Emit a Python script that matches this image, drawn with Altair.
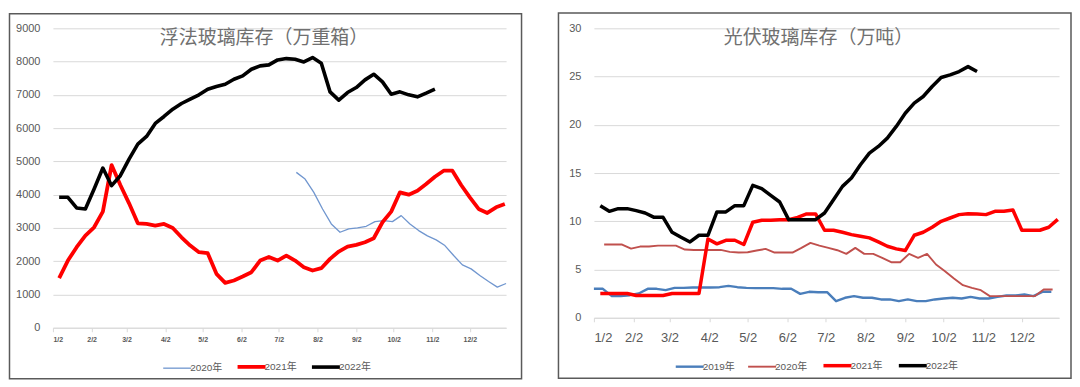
import altair as alt
import pandas as pd

# ---------------- 浮法玻璃库存（万重箱） ----------------
float_names = ["2020年", "2021年", "2022年"]
float_starts = ["2021-07-16", "2021-01-07", "2021-01-07"]   # first weekly observation (mapped to one calendar year)
float_2020 = [4670, 4470, 4070, 3570, 3120, 2870, 2970, 3000, 3050, 3190, 3220, 3190, 3370,
              3120, 2920, 2760, 2640, 2470, 2170, 1890, 1770, 1570, 1390, 1220, 1330]
float_2021 = [1490, 2020, 2420, 2770, 3020, 3490, 4890, 4290, 3740, 3140,
              3120, 3070, 3120, 3000, 2720, 2470, 2270, 2240, 1620, 1350,
              1420, 1540, 1670, 2020, 2130, 2020, 2170, 2020, 1820, 1720,
              1790, 2070, 2290, 2440, 2490, 2570, 2690, 3170, 3490, 4070,
              4000, 4120, 4320, 4540, 4720, 4720, 4290, 3920, 3570, 3450,
              3620, 3720]
float_2022 = [3920, 3920, 3600, 3570, 4170, 4800, 4270, 4570, 5070, 5520,
              5750, 6140, 6350, 6570, 6740, 6870, 7000, 7170, 7250, 7320,
              7470, 7570, 7770, 7870, 7900, 8050, 8090, 8070, 7990, 8120,
              7950, 7090, 6840, 7070, 7220, 7450, 7620, 7390, 7020, 7090,
              7000, 6940, 7050, 7170]
float_colors = ["#7096CF", "#FF0000", "#000000"]
float_widths = [1.3, 3.8, 3.6]

# ---------------- 光伏玻璃库存（万吨） ----------------
pv_names = ["2019年", "2020年", "2021年", "2022年"]
pv_starts = ["2021-01-02", "2021-01-10", "2021-01-07", "2021-01-07"]
pv_2019 = [3.0, 3.0, 2.24, 2.24, 2.34, 2.52, 3.0, 3.0, 2.86, 3.1,
           3.1, 3.14, 3.14, 3.14, 3.17, 3.31, 3.17, 3.1, 3.07, 3.07,
           3.07, 3.0, 3.0, 2.48, 2.69, 2.65, 2.65, 1.72, 2.07, 2.24,
           2.07, 2.07, 1.9, 1.9, 1.72, 1.9, 1.72, 1.72, 1.9, 2.0,
           2.07, 2.0, 2.17, 2.0, 2.0, 2.17, 2.31, 2.31, 2.41, 2.24,
           2.69, 2.69]
pv_2020 = [7.59, 7.59, 7.59, 7.17, 7.38, 7.38, 7.48, 7.48, 7.48, 7.07,
           7.03, 7.03, 7.03, 7.03, 6.83, 6.76, 6.79, 6.97, 7.14, 6.76,
           6.76, 6.76, 7.24, 7.76, 7.48, 7.24, 7.0, 6.62, 7.24, 6.62,
           6.62, 6.21, 5.76, 5.76, 6.62, 6.21, 6.62, 5.52, 4.83, 4.07,
           3.38, 3.10, 2.86, 2.24, 2.24, 2.24, 2.24, 2.24, 2.24, 2.93,
           2.93]
pv_2021 = [2.52, 2.52, 2.52, 2.52, 2.31, 2.31, 2.31, 2.31, 2.52, 2.52,
           2.52, 2.52, 8.17, 7.66, 8.03, 8.03, 7.59, 9.9, 10.1, 10.1,
           10.17, 10.17, 10.41, 10.76, 10.76, 9.07, 9.07, 8.86, 8.62, 8.45,
           8.28, 7.86, 7.41, 7.14, 6.97, 8.55, 8.86, 9.38, 10.0, 10.34,
           10.69, 10.79, 10.76, 10.69, 11.03, 11.03, 11.17, 9.07, 9.07, 9.07,
           9.38, 10.2]
pv_2022 = [11.62, 11.03, 11.31, 11.31, 11.10, 10.86, 10.41, 10.41, 8.86, 8.34,
           7.86, 8.55, 8.55, 10.97, 10.97, 11.62, 11.62, 13.72, 13.38, 12.69,
           12.0, 10.17, 10.17, 10.17, 10.17, 10.86, 12.24, 13.62, 14.48, 15.86,
           17.07, 17.76, 18.62, 19.83, 21.2, 22.24, 22.93, 23.97, 24.9, 25.17,
           25.52, 26.03, 25.52]
pv_colors = ["#4A7EBB", "#C0504D", "#FF0000", "#000000"]
pv_widths = [2.4, 1.9, 3.5, 3.5]

month_ticks = [alt.DateTime(year=2021, month=m, date=2, utc=True) for m in range(1, 13)]
x_domain = [alt.DateTime(year=2021, month=1, date=2, utc=True),
            alt.DateTime(year=2021, month=12, date=31, utc=True)]

GRID = "#D9D9D9"
TXT = "#595959"
LATIN = "Liberation Sans, Noto Sans CJK SC, sans-serif"
CJK = "Noto Sans CJK SC"
one = pd.DataFrame({"k": [0]})


def weekly_table(name, start, vals):
    dates = pd.date_range(start, periods=len(vals), freq="7D").strftime("%Y-%m-%d")
    return pd.DataFrame({"date": list(dates), "value": vals, "series": name})


def panel(names, starts, series, colors, widths, title, w, h, ymax, ystep, frame, title_xy,
          xlab_size, xlab_weight, xlab_pad, legend_xy, col_pad):
    x = alt.X("date:T",
              scale=alt.Scale(type="utc", domain=x_domain, nice=False),
              axis=alt.Axis(values=month_ticks,
                            labelExpr="utcFormat(datum.value, '%-m/%-d')",
                            title=None, grid=False, domain=True, domainColor=GRID,
                            ticks=True, tickColor=GRID, tickSize=4,
                            labelFontSize=xlab_size, labelFontWeight=xlab_weight,
                            labelColor=TXT, labelPadding=xlab_pad, labelFont=LATIN))
    y = alt.Y("value:Q",
              scale=alt.Scale(domain=[0, ymax], nice=False),
              axis=alt.Axis(values=list(range(0, ymax + 1, ystep)), format="d", title=None,
                            grid=True, gridColor=GRID, domain=False, ticks=False,
                            tickSize=0, labelPadding=13, labelFontSize=11,
                            labelColor=TXT, labelFont=LATIN))
    sw_expr = " : ".join(f"datum.value == '{n}' ? {wd}" for n, wd in zip(names, widths)) + " : 2"
    leg = alt.Legend(orient="none", legendX=legend_xy[0], legendY=legend_xy[1],
                     direction="horizontal", title=None, symbolType="stroke",
                     symbolSize=784, labelFontSize=10, labelColor=TXT,
                     labelFont=LATIN, columnPadding=col_pad, labelOffset=8,
                     symbolStrokeWidth={"expr": sw_expr})
    color = alt.Color("series:N", scale=alt.Scale(domain=names, range=colors), legend=leg)
    lines = [
        alt.Chart(weekly_table(n, s, v)).mark_line(strokeWidth=wd, strokeJoin="round").encode(
            x=x, y=y, color=color)
        for n, s, v, wd in zip(names, starts, series, widths)
    ]
    box = alt.Chart(one).mark_rect(fillOpacity=0, stroke="#5A5A5A", strokeWidth=1.5).encode(
        x=alt.value(frame[0]), x2=alt.value(frame[1]),
        y=alt.value(frame[2]), y2=alt.value(frame[3]))
    head = alt.Chart(one).mark_text(text=title, font=CJK, fontSize=19, color="#707070",
                                    align="center", baseline="middle").encode(
        x=alt.value(title_xy[0]), y=alt.value(title_xy[1]))
    return alt.layer(box, head, *lines).properties(width=w, height=h)


left = panel(float_names, float_starts, [float_2020, float_2021, float_2022],
             float_colors, float_widths, "浮法玻璃库存（万重箱）",
             454, 300, 9000, 1000, (-43.5, 469.5, -14.7, 351), (211.5, 10),
             7, "bold", 4, (119.5, 334), 6.5)

right = panel(pv_names, pv_starts, [pv_2019, pv_2020, pv_2021, pv_2022],
              pv_colors, pv_widths, "光伏玻璃库存（万吨）",
              466, 290, 30, 5, (-35.5, 478, -15.4, 350.5), (225, 9.3),
              13, "normal", 10, (91, 333), 8.5)

chart = alt.hconcat(left, right, spacing=34).resolve_scale(
    color="independent"
).resolve_legend(
    color="independent"
).properties(
    padding={"left": 0, "top": 3, "right": 0, "bottom": 0}
).configure_view(strokeWidth=0)

chart.save("out.html", embed_options={"renderer": "svg", "actions": False})
